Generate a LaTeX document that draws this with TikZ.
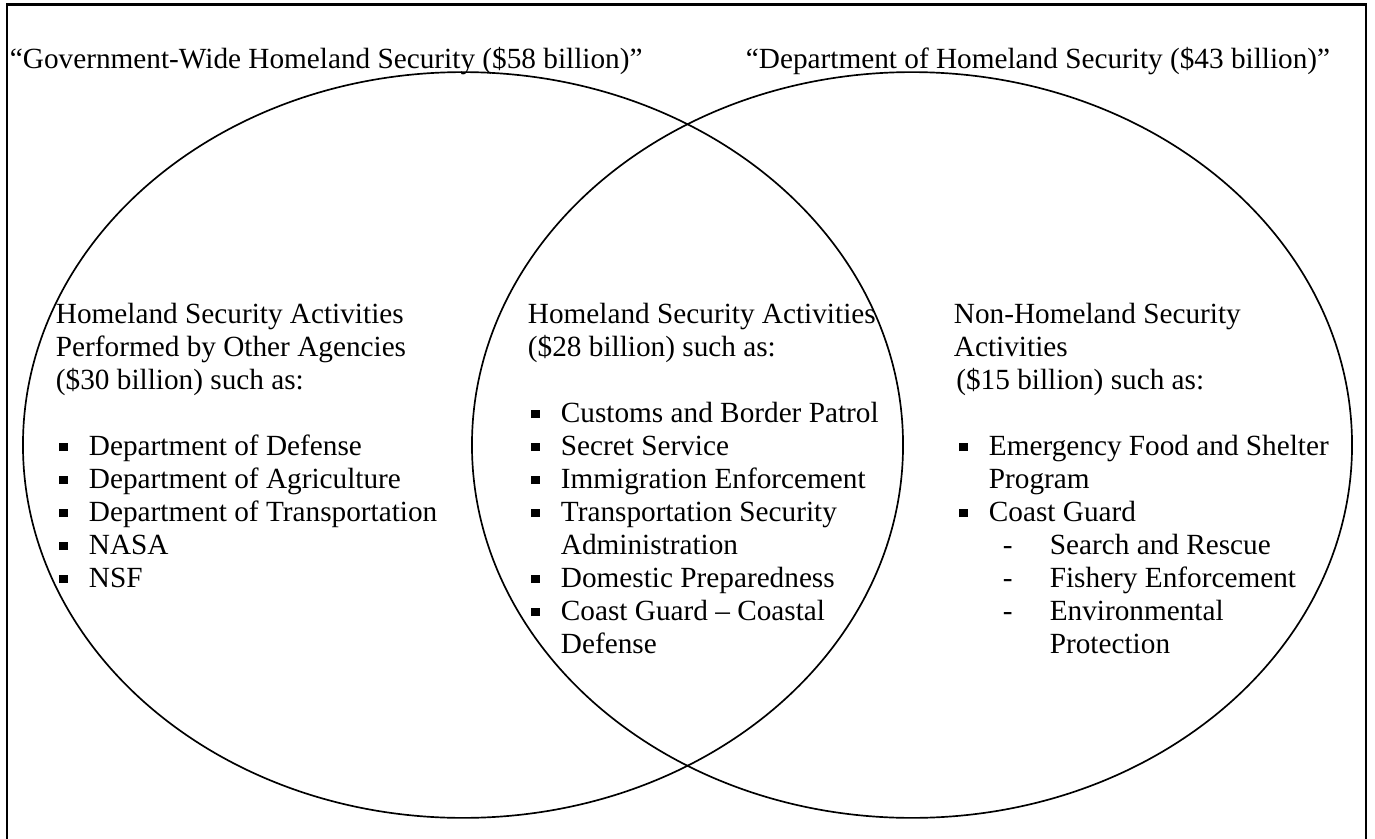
\documentclass[tikz,border=0pt]{standalone}
\usepackage{fontspec}
\setmainfont{Liberation Serif}
\usetikzlibrary{shapes.geometric}
\newcommand{\bitem}{\makebox[12.5pt][l]{\rule[1.6pt]{3.6pt}{3.6pt}}}
\newcommand{\bcont}{\hspace*{12.5pt}}
\newcommand{\bsub}{\hspace*{18.3pt}\makebox[19.6pt][l]{-}}
\newcommand{\bsubcont}{\hspace*{37.9pt}}

\begin{document}
\begin{tikzpicture}[x=0.417pt, y=-0.417pt, thick]
\tikzstyle{txt}=[anchor=north west, inner sep=0pt, align=left, font=\fontsize{12.2pt}{13.76pt}\selectfont]
\tikzstyle{set}=[ellipse, draw=black, line width=0.7pt, minimum width=367pt, minimum height=311pt, inner sep=0pt]
\useasboundingbox (0,0) rectangle (1375,839);
\draw[line width=1pt] (7,839) -- (7,4.5) -- (1366,4.5) -- (1366,839);
\node[set] (gov) at (463,445) {};
\node[set] (dhs) at (912,445) {};
% titles
\node[txt] (govtitle) at (9,44)   {\strut``Government-Wide Homeland Security (\$58 billion)''};
\node[txt] (dhstitle) at (745,44) {\strut``Department of Homeland Security (\$43 billion)''};
% left part
\node[txt] (otherhead) at (55,299) {\strut Homeland Security Activities\\Performed by Other Agencies\\(\$30 billion) such as:};
\node[txt] (otherlist) at (58,431) {\strut\bitem Department of Defense\\\bitem Department of Agriculture\\\bitem Department of Transportation\\\bitem NASA\\\bitem NSF};
% overlap
\node[txt] (bothhead) at (527,299) {\strut Homeland Security Activities\\(\$28 billion) such as:};
\node[txt] (bothlist) at (530,398) {\strut\bitem Customs and Border Patrol\\\bitem Secret Service\\\bitem Immigration Enforcement\\\bitem Transportation Security\\\bcont Administration\\\bitem Domestic Preparedness\\\bitem Coast Guard -- Coastal\\\bcont Defense};
% right part
\node[txt] (nonhead) at (953,299) {\strut Non-Homeland Security\\Activities\\\hspace*{1pt}(\$15 billion) such as:};
\node[txt] (nonlist) at (958,431) {\strut\bitem Emergency Food and Shelter\\\bcont Program\\\bitem Coast Guard\\\bsub Search and Rescue\\\bsub Fishery Enforcement\\\bsub Environmental\\\bsubcont Protection};
\end{tikzpicture}
\end{document}
